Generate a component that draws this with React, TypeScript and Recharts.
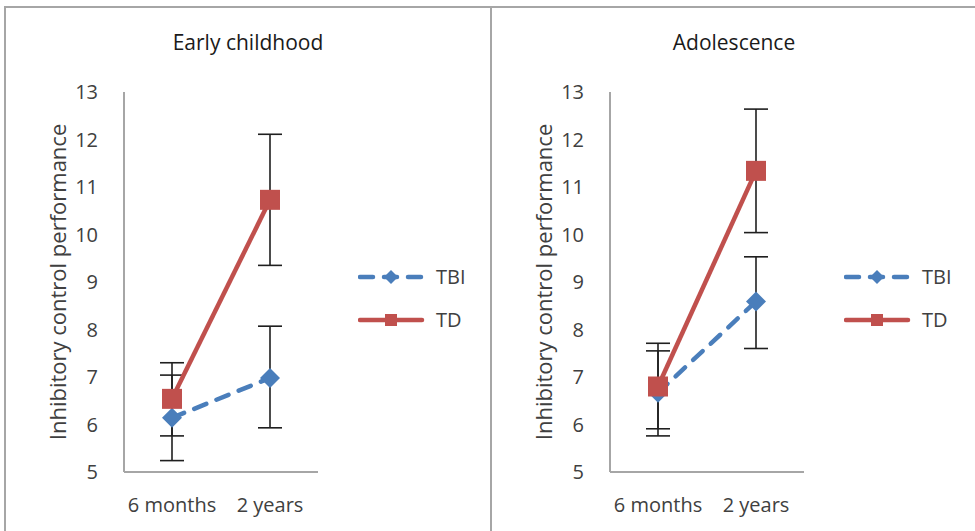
import { LineChart, Line, XAxis, YAxis, ErrorBar, Legend } from 'recharts';

const categories = ['6 months', '2 years'];
const yTicks = [5, 6, 7, 8, 9, 10, 11, 12, 13];
const seriesNames = ['TBI', 'TD'];

// error values are [below, above] the mean
const earlyTbi = [6.14, 6.98];
const earlyTbiErr = [[0.9, 0.9], [1.05, 1.09]];
const earlyTd = [6.54, 10.73];
const earlyTdErr = [[0.78, 0.76], [1.38, 1.38]];

const adolTbi = [6.67, 8.59];
const adolTbiErr = [[0.91, 1.04], [0.99, 0.94]];
const adolTd = [6.8, 11.34];
const adolTdErr = [[0.89, 0.75], [1.3, 1.3]];

const BLUE = '#4a7ebb';
const RED = '#c0504d';
const AXIS = '#a6a6a6';
const TEXT = '#404040';
const FONT = "'Open Sans', sans-serif";

function buildRows(tbi: number[], tbiErr: number[][], td: number[], tdErr: number[][]) {
  return categories.map((cat, i) => ({ cat, tbi: tbi[i], tbiErr: tbiErr[i], td: td[i], tdErr: tdErr[i] }));
}

function renderDiamond(p: any) {
  const { cx, cy, index } = p;
  if (cx == null || cy == null) return <g key={`dm-${index}`} />;
  const r = 10;
  return (
    <polygon
      key={`dm-${index}`}
      points={`${cx},${cy - r} ${cx + r},${cy} ${cx},${cy + r} ${cx - r},${cy}`}
      fill={BLUE}
    />
  );
}

function renderSquare(p: any) {
  const { cx, cy, index } = p;
  if (cx == null || cy == null) return <g key={`sq-${index}`} />;
  const s = 20;
  return <rect key={`sq-${index}`} x={cx - s / 2} y={cy - s / 2} width={s} height={s} fill={RED} />;
}

function AxisTitle(props: any) {
  const vb = props.viewBox;
  const x = vb.x + vb.width - 66;
  const y = vb.y + vb.height / 2;
  return (
    <text
      x={x}
      y={y}
      dy="0.36em"
      textAnchor="middle"
      transform={`rotate(-90, ${x}, ${y})`}
      fill={TEXT}
      fontSize={22}
      fontFamily={FONT}
    >
      Inhibitory control performance
    </text>
  );
}

function LegendBox() {
  return (
    <svg width={130} height={75} style={{ display: 'block' }}>
      <line x1={2} y1={15} x2={64} y2={15} stroke={BLUE} strokeWidth={4.5} strokeDasharray="13 11" strokeLinecap="round" />
      <polygon points="33,8 40,15 33,22 26,15" fill={BLUE} />
      <text x={78} y={15} dy="0.36em" fill={TEXT} fontSize={20} fontFamily={FONT}>{seriesNames[0]}</text>
      <line x1={2} y1={58} x2={64} y2={58} stroke={RED} strokeWidth={4.5} strokeLinecap="round" />
      <rect x={27} y={52} width={12} height={12} fill={RED} />
      <text x={78} y={58} dy="0.36em" fill={TEXT} fontSize={20} fontFamily={FONT}>{seriesNames[1]}</text>
    </svg>
  );
}

function Panel({ title, left, rows }: { title: string; left: number; rows: any[] }) {
  return (
    <div style={{ position: 'absolute', left, top: 0, width: 489, height: 531 }}>
      <div
        style={{
          position: 'absolute',
          left: 0,
          top: 32,
          width: 496,
          textAlign: 'center',
          fontFamily: FONT,
          fontSize: 21,
          lineHeight: '21px',
          color: '#1a1a1a',
        }}
      >
        {title}
      </div>
      <LineChart
        width={489}
        height={531}
        data={rows}
        margin={{ top: 92, right: 171, bottom: 0, left: 0 }}
        style={{ fontFamily: FONT }}
      >
        <XAxis
          dataKey="cat"
          height={59}
          padding={{ left: 48, right: 48 }}
          axisLine={{ stroke: AXIS, strokeWidth: 2 }}
          tickLine={false}
          tickSize={0}
          tickMargin={26}
          tick={{ fill: TEXT, fontSize: 20 }}
        />
        <YAxis
          width={124}
          domain={[5, 13]}
          ticks={yTicks}
          interval={0}
          axisLine={{ stroke: AXIS, strokeWidth: 2 }}
          tickLine={false}
          tickSize={0}
          tickMargin={26}
          tick={{ fill: TEXT, fontSize: 20 }}
          label={{ content: AxisTitle }}
        />
        <Legend
          layout="horizontal"
          align="center"
          verticalAlign="middle"
          content={LegendBox}
          wrapperStyle={{ left: 358, top: 262, width: 130, height: 75 }}
        />
        <Line
          dataKey="tbi"
          name="TBI"
          stroke={BLUE}
          strokeWidth={4.5}
          strokeDasharray="13 11"
          strokeLinecap="round"
          dot={renderDiamond}
          activeDot={false}
          isAnimationActive={false}
        >
          <ErrorBar dataKey="tbiErr" direction="y" width={12} stroke="#1f1f1f" strokeWidth={1.6} isAnimationActive={false} />
        </Line>
        <Line
          dataKey="td"
          name="TD"
          stroke={RED}
          strokeWidth={4.5}
          dot={renderSquare}
          activeDot={false}
          isAnimationActive={false}
        >
          <ErrorBar dataKey="tdErr" direction="y" width={12} stroke="#1f1f1f" strokeWidth={1.6} isAnimationActive={false} />
        </Line>
      </LineChart>
    </div>
  );
}

export default function App() {
  const early = buildRows(earlyTbi, earlyTbiErr, earlyTd, earlyTdErr);
  const adol = buildRows(adolTbi, adolTbiErr, adolTd, adolTdErr);
  return (
    <div
      style={{
        position: 'absolute',
        left: 0,
        top: 0,
        width: 975,
        height: 531,
        background: '#fff',
        overflow: 'hidden',
      }}
    >
      <div style={{ position: 'absolute', left: 4, top: 6, width: 488, height: 560, border: `2px solid ${AXIS}`, boxSizing: 'border-box' }} />
      <div style={{ position: 'absolute', left: 490, top: 6, width: 500, height: 560, border: `2px solid ${AXIS}`, boxSizing: 'border-box' }} />
      <Panel title="Early childhood" left={0} rows={early} />
      <Panel title="Adolescence" left={486} rows={adol} />
    </div>
  );
}
